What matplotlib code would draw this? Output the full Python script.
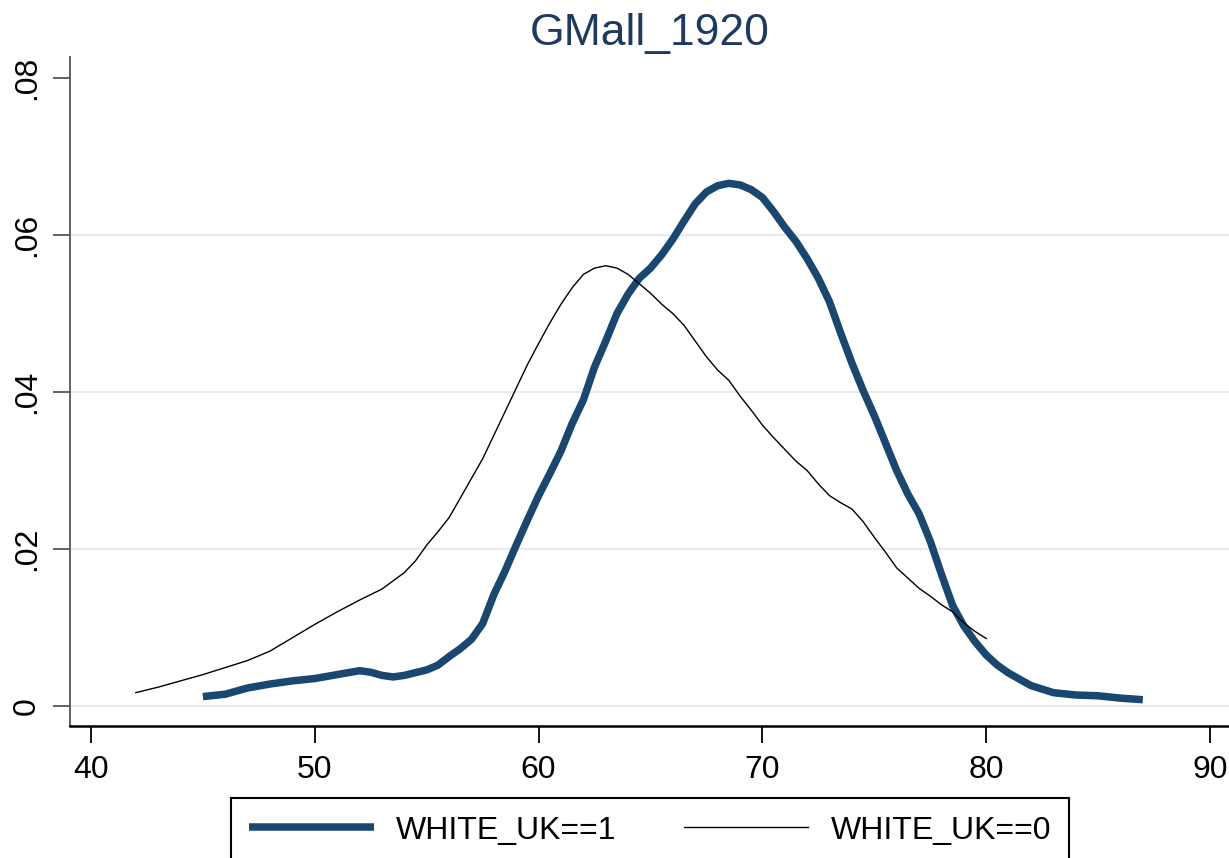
import matplotlib
matplotlib.use("Agg")
import matplotlib.pyplot as plt

plt.rcParams['font.family'] = ['Liberation Sans', 'DejaVu Sans']

# kernel density estimates
x_white1 = [45, 46, 47, 48, 49, 50, 51, 52, 52.5, 53, 53.5, 54, 55, 55.5, 56, 56.5, 57, 57.5,
            58, 58.5, 59, 59.5, 60, 60.5, 61, 61.5, 62, 62.5, 63, 63.5, 64, 64.5, 65, 65.5,
            66, 66.5, 67, 67.5, 68, 68.5, 69, 69.5, 70, 70.5, 71, 71.5, 72, 72.5, 73, 73.5,
            74, 74.5, 75, 75.5, 76, 76.5, 77, 77.5, 78, 78.5, 79, 79.5, 80, 80.5, 81, 82,
            83, 84, 85, 86, 87]
y_white1 = [0.0012, 0.0015, 0.0023, 0.0028, 0.0032, 0.0035, 0.0040, 0.0045, 0.0043, 0.0039,
            0.0037, 0.0039, 0.0046, 0.0052, 0.0063, 0.0073, 0.0085, 0.0105, 0.0142, 0.0172,
            0.0205, 0.0237, 0.0268, 0.0296, 0.0325, 0.0360, 0.0390, 0.0432, 0.0465, 0.0500,
            0.0525, 0.0545, 0.0558, 0.0575, 0.0595, 0.0618, 0.0640, 0.0655, 0.0663, 0.0666,
            0.0664, 0.0658, 0.0648, 0.0630, 0.0610, 0.0592, 0.0570, 0.0545, 0.0515, 0.0475,
            0.0437, 0.0402, 0.0370, 0.0335, 0.0300, 0.0270, 0.0245, 0.0210, 0.0168, 0.0128,
            0.0102, 0.0082, 0.0065, 0.0052, 0.0042, 0.0026, 0.0017, 0.0014, 0.0013, 0.0010,
            0.0008]

x_white0 = [42, 43, 44, 45, 46, 47, 48, 49, 50, 51, 52, 53, 54, 54.5, 55, 55.5, 56, 56.5,
            57, 57.5, 58, 58.5, 59, 59.5, 60, 60.5, 61, 61.5, 62, 62.5, 63, 63.5, 64, 64.5,
            65, 65.5, 66, 66.5, 67, 67.5, 68, 68.5, 69, 69.5, 70, 70.5, 71, 71.5, 72, 72.5,
            73, 73.5, 74, 74.5, 75, 75.5, 76, 76.5, 77, 77.5, 78, 78.5, 79, 79.5, 80]
y_white0 = [0.0017, 0.0024, 0.0032, 0.0040, 0.0049, 0.0058, 0.0070, 0.0087, 0.0104, 0.0120,
            0.0135, 0.0149, 0.0170, 0.0185, 0.0205, 0.0222, 0.0240, 0.0265, 0.0290, 0.0315,
            0.0345, 0.0375, 0.0405, 0.0435, 0.0462, 0.0488, 0.0512, 0.0533, 0.0550, 0.0558,
            0.0561, 0.0558, 0.0550, 0.0538, 0.0526, 0.0512, 0.0500, 0.0485, 0.0465, 0.0445,
            0.0428, 0.0415, 0.0395, 0.0377, 0.0358, 0.0342, 0.0327, 0.0312, 0.0300, 0.0283,
            0.0268, 0.0259, 0.0251, 0.0235, 0.0215, 0.0196, 0.0176, 0.0163, 0.0150, 0.0140,
            0.0129, 0.0120, 0.0106, 0.0095, 0.0086]

xticks = [40, 50, 60, 70, 80, 90]
yticks = [0, 0.02, 0.04, 0.06, 0.08]
ylabels = ['0', '.02', '.04', '.06', '.08']
labels = ['WHITE_UK==1', 'WHITE_UK==0']

navy = '#1a476f'

fig = plt.figure(figsize=(12.29, 8.58), dpi=100)
ax = fig.add_axes([70 / 1229, 1 - 726 / 858, 1159 / 1229, 669 / 858])

# grid lines (not at the top tick, like Stata)
for yv in yticks[:-1]:
    ax.axhline(yv, color='#e6ecef', linewidth=1.5, zorder=0)

ax.plot(x_white1, y_white1, color=navy, linewidth=5.4, solid_capstyle='butt',
        solid_joinstyle='round', label=labels[0])
ax.plot(x_white0, y_white0, color='black', linewidth=1.0, label=labels[1])

ax.set_xlim(39.06, 90.85)
ax.set_ylim(-0.00255, 0.0827)
ax.set_xticks(xticks)
ax.set_yticks(yticks)
ax.set_yticklabels(ylabels, rotation=90, va='center')
ax.tick_params(axis='both', labelsize=23, length=12, width=1.3)
ax.tick_params(axis='x', pad=9)
ax.tick_params(axis='y', pad=8, color='#555555')

ax.spines['top'].set_visible(False)
ax.spines['right'].set_visible(False)
ax.spines['left'].set_color('#555555')
ax.spines['left'].set_linewidth(1.3)
ax.spines['bottom'].set_linewidth(1.8)

ax.set_title('GMall_1920', fontsize=32, color='#1e3a5f', pad=9)

leg = fig.legend(loc='upper center', bbox_to_anchor=(650 / 1229, 1 - 798 / 858), ncol=2,
                 fontsize=23, handlelength=3.9, columnspacing=2.1, handletextpad=0.7,
                 borderpad=0.55, borderaxespad=0, fancybox=False, edgecolor='black',
                 framealpha=1)
leg.get_frame().set_linewidth(1.5)

fig.savefig('out.png', dpi=100)
